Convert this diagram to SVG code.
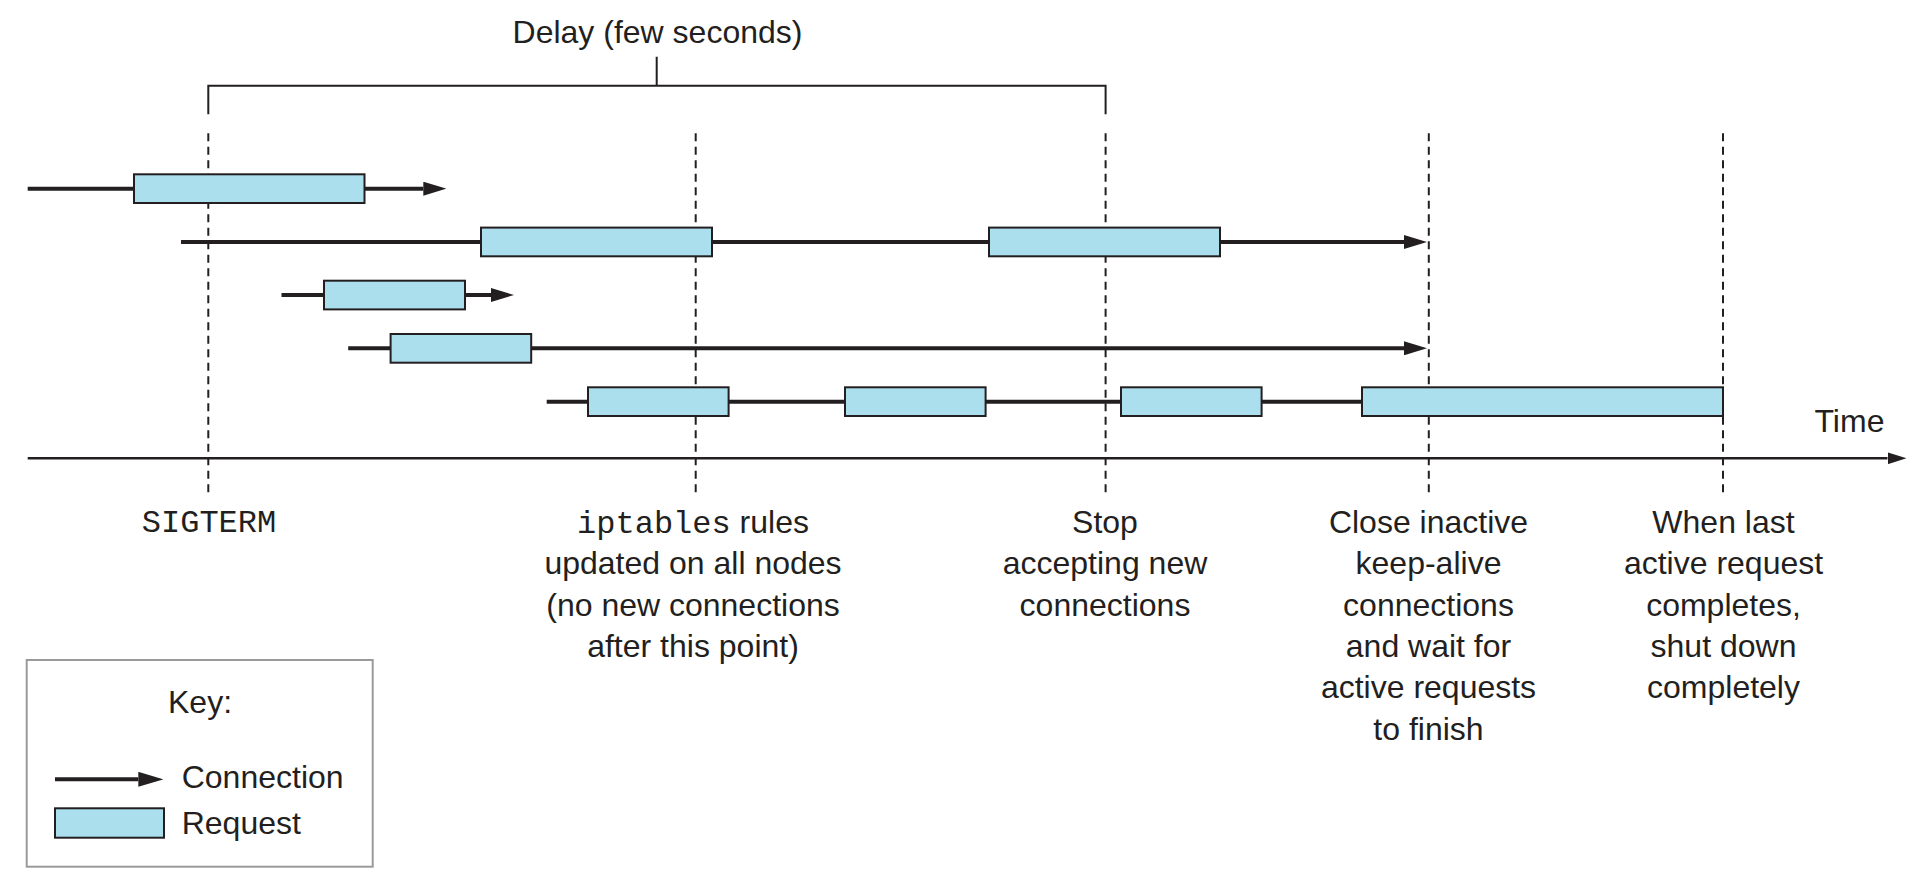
<svg xmlns="http://www.w3.org/2000/svg" width="1926" height="894" viewBox="0 0 1926 894">
<style>
.t{font-family:"Liberation Sans",Arial,sans-serif;font-size:32px;fill:#231f20}
.m{font-family:"Liberation Mono","Courier New",monospace;font-size:32px;fill:#231f20}
.c{text-anchor:middle}
.conn{stroke:#231f20;stroke-width:4;fill:none}
.req{fill:#acdfed;stroke:#231f20;stroke-width:2}
.dash{stroke:#231f20;stroke-width:2;stroke-dasharray:8 5.5;fill:none}
.br{stroke:#231f20;stroke-width:2;fill:none}
</style>
<defs>
<marker id="ah" markerUnits="userSpaceOnUse" viewBox="0 0 23 14" refX="0" refY="7" markerWidth="23" markerHeight="14" orient="auto">
<path d="M0,0 L23,7 L0,14 z" fill="#231f20"/>
</marker>
<marker id="ax" markerUnits="userSpaceOnUse" viewBox="0 0 19 12" refX="0" refY="6" markerWidth="19" markerHeight="12" orient="auto">
<path d="M0,0 L19,6 L0,12 z" fill="#231f20"/>
</marker>
<marker id="kh" markerUnits="userSpaceOnUse" viewBox="0 0 25 15" refX="0" refY="7.5" markerWidth="25" markerHeight="15" orient="auto">
<path d="M0,0 L25,7.5 L0,15 z" fill="#231f20"/>
</marker>
</defs>

<g id="delay-bracket">
<path class="br" d="M208.3,114.3 V85.7 H1105.6 V114.3 M656.7,56.7 V85.7"/>
<text class="t c" x="657.5" y="43.3">Delay (few seconds)</text>
</g>

<g id="markers">
<line class="dash" x1="208.3" y1="133.3" x2="208.3" y2="493.3"/>
<line class="dash" x1="695.7" y1="133.3" x2="695.7" y2="493.3"/>
<line class="dash" x1="1105.6" y1="133.3" x2="1105.6" y2="493.3"/>
<line class="dash" x1="1428.8" y1="133.3" x2="1428.8" y2="493.3"/>
<line class="dash" x1="1723" y1="133.3" x2="1723" y2="493.3"/>
</g>

<g id="time-axis">
<line x1="27.7" y1="458.3" x2="1887.5" y2="458.3" stroke="#231f20" stroke-width="2.5" marker-end="url(#ax)"/>
<text class="t" x="1814.5" y="432">Time</text>
</g>

<g id="connectors">
<line class="conn" x1="27.7" y1="188.7" x2="423.3" y2="188.7" marker-end="url(#ah)"/>
<line class="conn" x1="181" y1="242" x2="1404" y2="242" marker-end="url(#ah)"/>
<line class="conn" x1="281.5" y1="295" x2="491" y2="295" marker-end="url(#ah)"/>
<line class="conn" x1="348.2" y1="348.3" x2="1404" y2="348.3" marker-end="url(#ah)"/>
<line class="conn" x1="546.7" y1="401.7" x2="1362" y2="401.7"/>
</g>

<g id="requests">
<rect class="req" x="134" y="174.3" width="230.5" height="28.7"/>
<rect class="req" x="481" y="227.6" width="231" height="28.7"/>
<rect class="req" x="989" y="227.6" width="231" height="28.7"/>
<rect class="req" x="324" y="280.7" width="141" height="28.7"/>
<rect class="req" x="390.6" y="334" width="140.6" height="28.7"/>
<rect class="req" x="588" y="387.3" width="140.6" height="28.7"/>
<rect class="req" x="845" y="387.3" width="140.6" height="28.7"/>
<rect class="req" x="1121" y="387.3" width="140.6" height="28.7"/>
<rect class="req" x="1362" y="387.3" width="361" height="28.7"/>
</g>

<g id="label-sigterm">
<text class="m c" x="209" y="532">SIGTERM</text>
</g>

<g id="label-iptables">
<text class="t c" x="693" y="533"><tspan class="m">iptables</tspan> rules</text>
<text class="t c" x="693" y="574.3">updated on all nodes</text>
<text class="t c" x="693" y="615.6">(no new connections</text>
<text class="t c" x="693" y="656.9">after this point)</text>
</g>

<g id="label-stop">
<text class="t c" x="1105" y="533">Stop</text>
<text class="t c" x="1105" y="574.3">accepting new</text>
<text class="t c" x="1105" y="615.6">connections</text>
</g>

<g id="label-close">
<text class="t c" x="1428.5" y="533">Close inactive</text>
<text class="t c" x="1428.5" y="574.3">keep-alive</text>
<text class="t c" x="1428.5" y="615.6">connections</text>
<text class="t c" x="1428.5" y="656.9">and wait for</text>
<text class="t c" x="1428.5" y="698.2">active requests</text>
<text class="t c" x="1428.5" y="739.5">to finish</text>
</g>

<g id="label-shutdown">
<text class="t c" x="1723.5" y="533">When last</text>
<text class="t c" x="1723.5" y="574.3">active request</text>
<text class="t c" x="1723.5" y="615.6">completes,</text>
<text class="t c" x="1723.5" y="656.9">shut down</text>
<text class="t c" x="1723.5" y="698.2">completely</text>
</g>

<g id="key">
<rect x="26.7" y="660" width="346" height="206.7" fill="#fff" stroke="#9a9a9a" stroke-width="2"/>
<text class="t c" x="200" y="713">Key:</text>
<line class="conn" x1="55" y1="779.3" x2="138.3" y2="779.3" marker-end="url(#kh)"/>
<text class="t" x="181.7" y="787.7">Connection</text>
<rect class="req" x="55" y="808.3" width="109" height="29.4"/>
<text class="t" x="181.7" y="834">Request</text>
</g>
</svg>
